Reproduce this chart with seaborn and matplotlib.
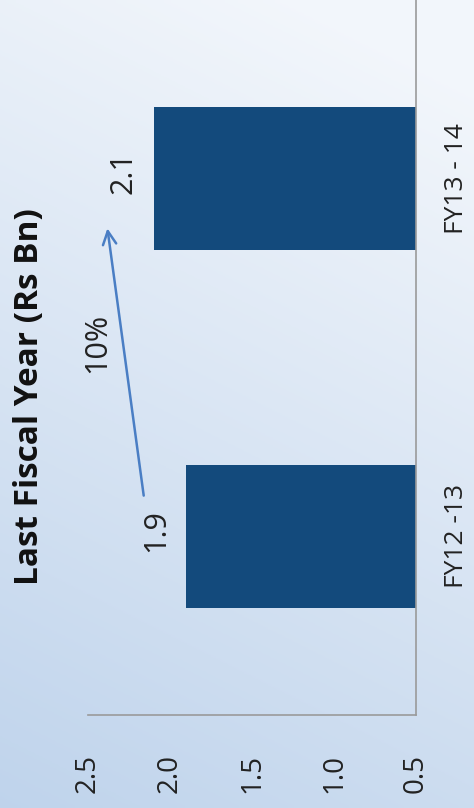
import numpy as np
import pandas as pd
import matplotlib
matplotlib.use("Agg")
import matplotlib.pyplot as plt
import seaborn as sns

# values
years = ["FY12 -13", "FY13 - 14"]
revenue = [1.9, 2.1]
value_labels = ["1.9", "2.1"]
growth_label = "10%"
x_ticks = [2.5, 2.0, 1.5, 1.0, 0.5]

sns.set_theme(style="white")
plt.rcParams['font.family'] = ['Open Sans', 'DejaVu Sans']

df = pd.DataFrame({"year": years, "revenue": revenue})

fig = plt.figure(figsize=(4.74, 8.08), dpi=100)

# soft blue gradient background
bg = fig.add_axes([0, 0, 1, 1], zorder=0)
yy, xx = np.mgrid[0:1:200j, 0:1:200j]
t = np.clip(0.85 * yy + 0.25 * xx, 0, 1)
top = np.array([0.95, 0.965, 0.985])
bottom = np.array([0.75, 0.83, 0.925])
img = bottom[None, None, :] * (1 - t[..., None]) + top[None, None, :] * t[..., None]
bg.imshow(img, origin="lower", extent=[0, 1, 0, 1], aspect="auto")
bg.axis("off")

ax = fig.add_axes([88 / 474, 93 / 808, 328 / 474, 715 / 808], zorder=1)
ax.patch.set_alpha(0)
sns.barplot(data=df, x="revenue", y="year", orient="h", color="#134A7C",
            width=0.4, saturation=1, linewidth=0, ax=ax)
ax.set_xlim(2.5, 0.5)
ax.set_ylim(-0.5, 1.5)

for s in ["top", "left"]:
    ax.spines[s].set_visible(False)
for s in ["bottom", "right"]:
    ax.spines[s].set_color("#9A9A9A")
    ax.spines[s].set_linewidth(1.2)

ax.set_xticks(x_ticks)
ax.set_xticklabels([f"{v:.1f}" for v in x_ticks], rotation=90, fontsize=20,
                   color="#222222")
ax.tick_params(axis="x", pad=28, length=0)
ax.yaxis.tick_right()
ax.set_yticks([0, 1])
ax.set_yticklabels(years, rotation=90, fontsize=19, color="#222222", va="center")
ax.tick_params(axis="y", pad=20, length=0)
ax.set_xlabel("")
ax.set_ylabel("")

# value labels beside bars
for i, (v, lab) in enumerate(zip(revenue, value_labels)):
    ax.text(v + 0.183, i + 0.017, lab, rotation=90, fontsize=22,
            ha="center", va="center", color="#222222")

# growth arrow
ax.annotate("", xy=(2.384, 0.869), xytext=(2.158, 0.106),
            arrowprops=dict(arrowstyle="->", color="#4A7EC4", lw=1.8,
                            mutation_scale=24))
ax.text(2.445, 0.542, growth_label, rotation=90, fontsize=22,
        ha="center", va="center", color="#222222")

fig.text(30 / 474, 1 - 397 / 808, "Last Fiscal Year (Rs Bn)", rotation=90,
         fontsize=24, fontweight="bold", ha="center", va="center",
         color="#111111")

fig.savefig("out.png", dpi=100)
